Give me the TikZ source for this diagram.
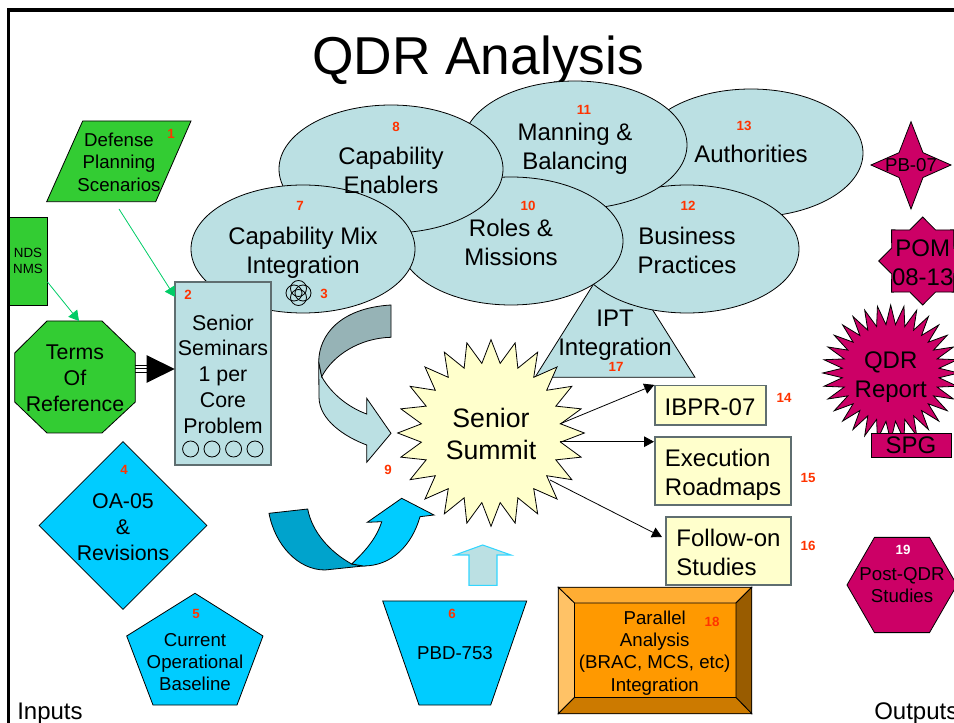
\documentclass[tikz,border=0pt]{standalone}
\usepackage{fontspec}
\setmainfont{Liberation Sans}
\definecolor{lobeblue}{RGB}{187, 224, 227}
\definecolor{lobedark}{RGB}{150, 179, 182}
\definecolor{edgegray}{RGB}{95, 110, 112}
\definecolor{inputgreen}{RGB}{51, 204, 51}
\definecolor{linkgreen}{RGB}{0, 204, 102}
\definecolor{skyblue}{RGB}{0, 204, 255}
\definecolor{skydark}{RGB}{0, 163, 204}
\definecolor{outmagenta}{RGB}{204, 0, 102}
\definecolor{paleyellow}{RGB}{255, 255, 204}
\definecolor{tagred}{RGB}{255, 51, 0}
\definecolor{bevelface}{RGB}{255, 153, 0}
\definecolor{beveltop}{RGB}{255, 173, 51}
\definecolor{bevelleft}{RGB}{255, 194, 102}
\definecolor{bevelright}{RGB}{153, 92, 0}
\definecolor{bevelbottom}{RGB}{204, 122, 0}
\usetikzlibrary{shapes.geometric, arrows.meta}
\tikzset{
  hugetext/.style={font=\fontsize{20}{24}\selectfont, align=center, inner sep=0pt},
  bigtext/.style={font=\fontsize{18}{21.7}\selectfont, align=center, inner sep=0pt},
  midtext/.style={font=\fontsize{16}{19.3}\selectfont, align=center, inner sep=0pt},
  smalltext/.style={font=\fontsize{14}{16.7}\selectfont, align=center, inner sep=0pt},
  tag/.style={font=\fontsize{10}{10}\selectfont\bfseries, text=tagred, inner sep=0pt},
  outline/.style={draw=black, line width=0.6pt},
  lobe/.style={ellipse, outline, fill=lobeblue, minimum width=168pt, minimum height=96pt, inner sep=0pt},
  yellowbox/.style={rectangle, draw=edgegray, line width=1.1pt, fill=paleyellow},
  ringdot/.style={circle, outline, minimum size=12pt, inner sep=0pt},
  greenlink/.style={draw=linkgreen, line width=0.6pt, -{Triangle[length=7.5pt, width=8.5pt]}},
  blacklink/.style={draw=black, line width=0.6pt, -{Triangle[length=7.5pt, width=8pt]}},
}
\begin{document}
\begin{tikzpicture}[x=0.75pt, y=-0.75pt]
  \useasboundingbox (0, 0) rectangle (954, 723);

  % Frame
  \draw[line width=2.4pt] (8.6, 723) -- (8.6, 10) -- (954, 10);

  % Title
  \node[font=\fontsize{40}{48}\selectfont, anchor=base, inner sep=0pt] (title) at (478, 75) {QDR Analysis};

  % IPT triangle sits behind the lobes
  \draw[outline, fill=lobeblue] (535, 377.3) -- (615, 250) -- (695, 377.3) -- cycle;

  % Lobes, back to front
  \node[lobe] (authorities) at (751, 153) {};
  \node[lobe] (business) at (687, 249) {};
  \node[lobe] (manning) at (575, 145) {};
  \node[lobe] (roles) at (511, 241) {};
  \node[lobe] (enablers) at (391, 169) {};
  \node[lobe] (mix) at (303, 249) {};
  \node[bigtext] (authoritiestext) at (751, 153.5) {Authorities};
  \node[bigtext] (businesstext) at (687, 250) {Business\\Practices};
  \node[bigtext] (manningtext) at (575, 149) {Manning \&\\Balancing};
  \node[bigtext] (rolestext) at (511, 242) {Roles \&\\Missions};
  \node[bigtext] (enablerstext) at (391, 170) {Capability\\Enablers};
  \node[bigtext] (mixtext) at (303, 253) {Capability Mix\\Integration};
  \node[bigtext] (ipt) at (615, 335) {IPT\\Integration};

  % Inputs
  \draw[outline, fill=inputgreen] (82.7, 121) -- (191, 121) -- (155.7, 201.7) -- (46.7, 201.7) -- cycle;
  \node[smalltext] (scenarios) at (119, 162.3) {Defense\\Planning\\Scenarios};
  \node[rectangle, outline, fill=inputgreen, minimum width=28.5pt, minimum height=66pt,
    font=\fontsize{10}{12}\selectfont, align=center, inner sep=0pt] (nds) at (28, 261) {NDS\\NMS};
  \draw[outline, fill=inputgreen] (47, 321) -- (102, 321) -- (135.3, 353) -- (135.3, 402) -- (102, 433)
    -- (47, 433) -- (14.7, 402) -- (14.7, 353) -- cycle;
  \node[midtext] (terms) at (75, 378.5) {Terms\\Of\\Reference};
  \node[rectangle, draw=edgegray, line width=1.2pt, fill=lobeblue, minimum width=72pt, minimum height=137.3pt] (seminars) at (223, 373.5) {};
  \node[midtext] (seminarstext) at (223, 374) {Senior\\Seminars\\1 per\\Core\\Problem};
  \foreach \i/\cx in {1/190.6, 2/212, 3/233.6, 4/255}
    \node[ringdot, fill=lobeblue] (seat\i) at (\cx, 449) {};

  % Rings next to 3
  \foreach \i/\dx/\dy in {1/-4.5/0, 2/4.5/0, 3/0/-4.5, 4/0/4.5}
    \node[ringdot] (ring\i) at (298.5+\dx, 293+\dy) {};

  \node[diamond, outline, fill=skyblue, minimum width=126pt, minimum height=126pt, inner sep=0pt] (oa) at (123, 525.5) {};
  \node[midtext] (oatext) at (123, 527) {OA-05\\\&\\Revisions};
  \draw[outline, fill=skyblue] (195, 593.3) -- (263, 636) -- (237, 705) -- (153, 705) -- (126.7, 636) -- cycle;
  \node[smalltext] (baseline) at (195, 662) {Current\\Operational\\Baseline};
  \draw[outline, fill=skyblue] (382.7, 601) -- (526.7, 601) -- (490.7, 705) -- (419, 705) -- cycle;
  \node[smalltext] (pbd) at (455, 653) {PBD-753};

  % Connectors on the input side
  \coordinate (scenariosout) at (119, 209);
  \coordinate (seminarsin) at (175, 297);
  \coordinate (termsout) at (135.3, 369);
  \coordinate (seminarsarm) at (174.7, 369);
  \coordinate (ndsout) at (47.5, 282);
  \coordinate (termsin) at (79, 321);
  \draw[greenlink] (scenariosout) -- (seminarsin);
  \draw[greenlink] (ndsout) -- (termsin);
  \draw[line width=0.75pt] ([yshift=2.6pt]termsout) -- ([yshift=2.6pt, xshift=-20pt]seminarsarm);
  \draw[line width=0.75pt] ([yshift=-2.6pt]termsout) -- ([yshift=-2.6pt, xshift=-20pt]seminarsarm);
  \draw[line width=0.75pt, -{Triangle[length=21pt, width=20.5pt]}] (termsout) -- (seminarsarm);

  % Curved arrows into the summit
  \draw[outline, fill=lobeblue] (318.7, 361.7) -- (319, 397) .. controls (319, 420) and (345, 437) .. (366.7, 445)
    -- (366.7, 462.3) -- (391, 433.3) -- (366.7, 398.3) -- (366.7, 414)
    .. controls (350, 408) and (332, 395) .. (321.7, 376.7) -- cycle;
  \draw[outline, fill=lobedark] (391, 305) .. controls (340, 308) and (319, 335) .. (318.7, 361.7)
    -- (321.7, 376.7) .. controls (333, 355) and (360, 338) .. (391, 337.3) -- cycle;
  \draw[outline, fill=skydark] (269, 513.3) .. controls (275, 545) and (298, 570) .. (325, 570)
    -- (363.3, 566) -- (351.7, 564) .. controls (330, 552) and (312, 532) .. (307.7, 509) -- cycle;
  \draw[outline, fill=skyblue] (351.7, 564) .. controls (363, 553) and (376, 540) .. (381.7, 521.7)
    -- (367.3, 522.3) -- (401.7, 498.3) -- (434, 515) -- (420, 516.7)
    .. controls (412, 545) and (392, 566) .. (363.3, 566) -- cycle;
  \draw[draw=skyblue!80!white, line width=0.8pt, fill=lobeblue] (482.7, 545) -- (511, 555) -- (497, 555) -- (497, 585.3)
    -- (469, 585.3) -- (469, 555) -- (455, 555) -- cycle;

  % Senior summit and its products
  \node[star, star points=24, star point ratio=1.33, outline, fill=paleyellow, minimum size=140pt, inner sep=0pt] (summit) at (491, 433) {};
  \node[hugetext] (summittext) at (491, 434) {Senior\\Summit};
  \node[yellowbox, minimum width=83.2pt, minimum height=29.5pt] (ibpr) at (710.5, 405.3) {};
  \node[yellowbox, minimum width=102pt, minimum height=51.3pt] (roadmaps) at (723, 471) {};
  \node[yellowbox, minimum width=93.7pt, minimum height=51pt] (followon) at (728.5, 551) {};
  \node[bigtext] (ibprtext) at (710, 407.5) {IBPR-07};
  \node[bigtext, align=left] (roadmapstext) at (723, 475) {Execution\\Roadmaps};
  \node[bigtext, align=left] (followontext) at (728.5, 552.5) {Follow-on\\Studies};
  \coordinate (summitout1) at (559.7, 424);
  \coordinate (summitout2) at (559.7, 441.7);
  \coordinate (summitout3) at (550, 480);
  \coordinate (roadmapsin) at (654, 441.7);
  \coordinate (followonin) at (662, 537);
  \draw[blacklink] (summitout1) -- (ibpr.north west);
  \draw[blacklink] (summitout2) -- (roadmapsin);
  \draw[blacklink] (summitout3) -- (followonin);

  % Parallel analysis block
  \node[rectangle, minimum width=144.5pt, minimum height=94.2pt, outline, inner sep=0pt] (bevel) at (655, 650.5) {};
  \node[rectangle, minimum width=120.8pt, minimum height=70.5pt, inner sep=0pt] (parallel) at (655.2, 650.3) {};
  \fill[bevelface] (parallel.north west) rectangle (parallel.south east);
  \draw[outline, fill=beveltop] (bevel.north west) -- (bevel.north east) -- (parallel.north east) -- (parallel.north west) -- cycle;
  \draw[outline, fill=bevelleft] (bevel.north west) -- (bevel.south west) -- (parallel.south west) -- (parallel.north west) -- cycle;
  \draw[outline, fill=bevelright] (bevel.north east) -- (bevel.south east) -- (parallel.south east) -- (parallel.north east) -- cycle;
  \draw[outline, fill=bevelbottom] (bevel.south west) -- (bevel.south east) -- (parallel.south east) -- (parallel.south west) -- cycle;
  \node[smalltext] (paralleltext) at (654.7, 653) {Parallel\\Analysis\\(BRAC, MCS, etc)\\Integration};

  % Outputs
  \draw[outline, fill=outmagenta] (911, 121.7) -- (923, 152.7) -- (951, 165) -- (923, 177.5) -- (911, 209)
    -- (899, 177.5) -- (871, 165) -- (899, 152.7) -- cycle;
  \node[smalltext] (pb) at (911, 165) {PB-07};
  \node[star, star points=8, star point ratio=1.31, outline, fill=outmagenta, minimum size=66pt, inner sep=0pt] (pom) at (922.7, 261) {};
  \node[bigtext] (pomtext) at (922.7, 262.5) {POM\\08-13};
  \node[star, star points=32, star point ratio=1.4, outline, fill=outmagenta, minimum size=102pt, inner sep=0pt] (report) at (890.7, 373) {};
  \node[bigtext] (reporttext) at (890.7, 377) {QDR\\Report};
  \node[rectangle, outline, fill=outmagenta, minimum width=60pt, minimum height=18.2pt, inner sep=0pt, font=\fontsize{18}{21.7}\selectfont] (spg) at (911, 445.2) {SPG};
  \node[regular polygon, regular polygon sides=6, outline, fill=outmagenta, minimum size=82.5pt, inner sep=0pt] (postqdr) at (902, 585) {};
  \node[smalltext] (postqdrtext) at (902, 585) {Post-QDR\\Studies};

  % Corner words
  \node[font=\fontsize{18}{21.7}\selectfont, anchor=base west, inner sep=0pt] (inputs) at (17, 719) {Inputs};
  \node[font=\fontsize{18}{21.7}\selectfont, anchor=base west, inner sep=0pt] (outputs) at (874, 719) {Outputs};

  % Number tags
  \foreach \n/\tx/\ty in {1/171/134, 2/188/295, 3/324/294, 4/124/470, 5/196/614, 6/452/614, 7/300/206,
    8/396/127, 9/388/470, 10/528/206, 11/584/110, 12/688/206, 13/744/126, 14/784/398, 15/808/478,
    16/808/546, 17/616/367, 18/712/622}
    \node[tag] (tag\n) at (\tx, \ty) {\n};
  \node[tag, text=white] (tag19) at (903, 550) {19};
\end{tikzpicture}
\end{document}
